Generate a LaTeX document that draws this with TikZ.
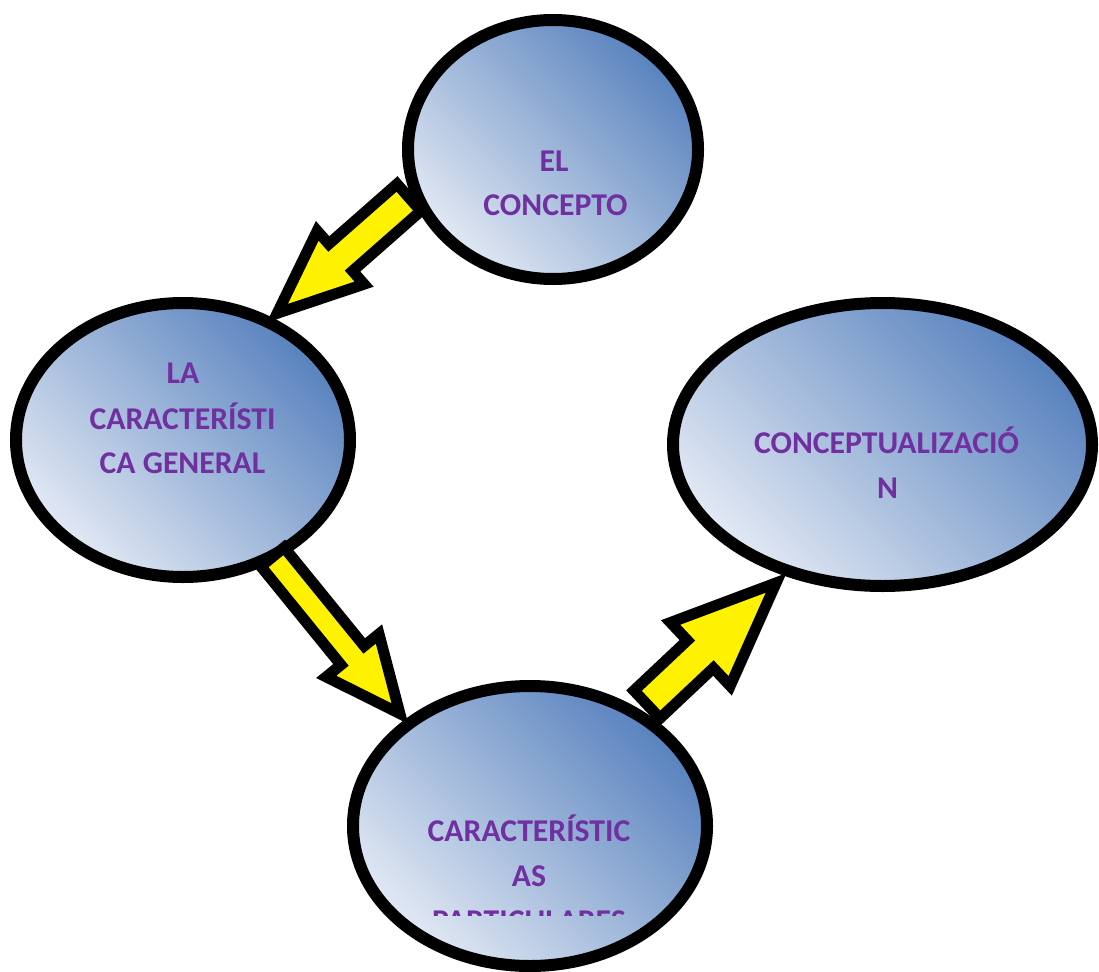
\documentclass[tikz,border=0pt]{standalone}
\usepackage{fontspec}
\setmainfont{Carlito}
\usetikzlibrary{calc,shapes.geometric}
\definecolor{txtpurple}{HTML}{7030A0}
\definecolor{bubdark}{RGB}{88,130,190}
\definecolor{bublight}{RGB}{226,233,244}
\newcommand{\blockarr}[6]{% #1 tail, #2 tip, #3 notch name, #4 shaft half, #5 head half, #6 head length
  \coordinate (#3) at ($(#2)!#6!(#1)$);
  \draw[blockarrow] ($(#1)!#4!90:(#2)$) -- ($(#3)!#4!90:(#2)$) -- ($(#3)!#5!90:(#2)$) -- (#2)
    -- ($(#3)!#5!-90:(#2)$) -- ($(#3)!#4!-90:(#2)$) -- ($(#1)!#4!-90:(#2)$) -- cycle;}
\begin{document}
\begin{tikzpicture}[x=1pt,y=-1pt,
  bub/.style={ellipse, draw=black, line width=12pt, inner sep=0pt,
    top color=bubdark, bottom color=bublight, shading angle=-45},
  lbl/.style={anchor=base, text=txtpurple, inner sep=0pt,
    font=\fontsize{31.7}{38}\selectfont\bfseries},
  blockarrow/.style={draw=black, fill=yellow, line width=11pt, line join=miter, miter limit=10}]
\useasboundingbox (0,0) rectangle (1099,971);
\fill[white] (0,0) rectangle (1099,971);

% ellipses
\node[bub, minimum width=290pt, minimum height=259pt] (e1) at (553,149.5) {};
\node[bub, minimum width=334pt, minimum height=274pt] (e2) at (183,440) {};
\node[bub, minimum width=419pt, minimum height=283pt] (e3) at (882.5,444.5) {};
\node[bub, minimum width=354pt, minimum height=280pt] (e4) at (530,826) {};

% texts
\node[lbl] (t1a) at (554,171) {EL};
\node[lbl] (t1b) at (555.5,215) {CONCEPTO};
\node[lbl] (t2a) at (183,383) {LA};
\node[lbl] (t2b) at (182.5,429) {CARACTERÍSTI};
\node[lbl] (t2c) at (182.5,473) {CA GENERAL};
\node[lbl] (t3a) at (886.5,453) {CONCEPTUALIZACIÓ};
\node[lbl] (t3b) at (887.5,498) {N};
\node[lbl] (t4a) at (529,841) {CARACTERÍSTIC};
\node[lbl] (t4b) at (529,886) {AS};
\begin{scope}
  \clip (340,700) rectangle (720,915);
  \node[lbl] (t4c) at (529,931) {PARTICULARES};
\end{scope}

% arrows
\coordinate (a1s) at (408.9,197.5);
\coordinate (a1e) at (277.2,313.3);
\coordinate (a2s) at (272.5,556.9);
\coordinate (a2e) at (399.9,713.6);
\coordinate (a3s) at (647,704.4);
\coordinate (a3e) at (776.1,582.9);
\blockarr{a1s}{a1e}{a1n}{18pt}{35.5pt}{84.5pt}
\blockarr{a2s}{a2e}{a2n}{15pt}{34pt}{75pt}
\blockarr{a3s}{a3e}{a3n}{19pt}{43.5pt}{104pt}
\end{tikzpicture}
\end{document}
